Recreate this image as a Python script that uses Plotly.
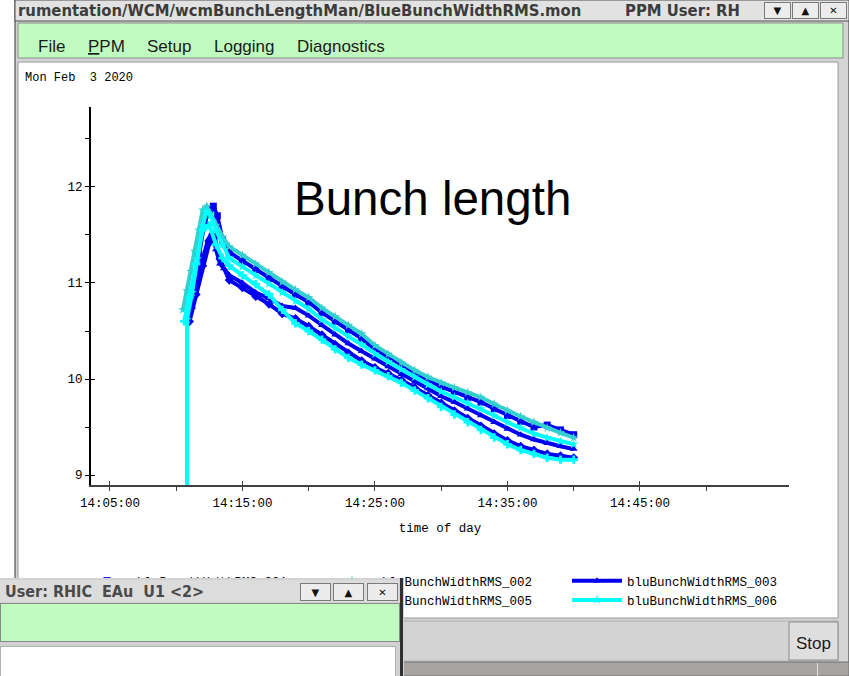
import plotly.graph_objects as go

W, H = 849, 676


def PX(x):
    return x / W


def PY(y):
    return 1 - y / H


DAY = "2020-02-03 "

# ---------------- data ----------------
series_names = ["bluBunchWidthRMS_001", "bluBunchWidthRMS_002", "bluBunchWidthRMS_003",
                "bluBunchWidthRMS_004", "bluBunchWidthRMS_005", "bluBunchWidthRMS_006"]

decay_times = ["14:14:00", "14:15:00", "14:16:00", "14:17:00", "14:18:00", "14:19:00",
               "14:20:00", "14:21:00", "14:22:00", "14:23:00", "14:24:00", "14:25:00",
               "14:26:00", "14:27:00", "14:28:00", "14:29:00", "14:30:00", "14:31:00",
               "14:32:00", "14:33:00", "14:34:00", "14:35:00", "14:36:00", "14:37:00",
               "14:38:00", "14:39:00", "14:40:00"]

rise_001_t = ["14:10:54", "14:11:18", "14:11:42", "14:12:06", "14:12:30", "14:12:48", "14:13:06", "14:13:30"]
rise_001_v = [10.62, 10.95, 11.30, 11.60, 11.76, 11.80, 11.70, 11.45]
decay_001_v = [11.32, 11.23, 11.14, 11.05, 10.96, 10.88, 10.80, 10.69, 10.60, 10.51, 10.42, 10.31,
               10.23, 10.14, 10.06, 9.99, 9.92, 9.87, 9.81, 9.76, 9.69, 9.62, 9.56, 9.50,
               9.52, 9.47, 9.42]

rise_002_t = ["14:10:30", "14:10:48", "14:11:06", "14:11:24", "14:11:42", "14:12:00", "14:12:18",
              "14:12:36", "14:13:00", "14:13:30"]
rise_002_v = [10.72, 10.92, 11.12, 11.33, 11.55, 11.76, 11.80, 11.72, 11.60, 11.48]
decay_002_v = [11.38, 11.29, 11.20, 11.11, 11.01, 10.93, 10.85, 10.74, 10.65, 10.56, 10.47, 10.35,
               10.26, 10.17, 10.09, 10.02, 9.96, 9.91, 9.86, 9.81, 9.74, 9.67, 9.61, 9.55,
               9.49, 9.44, 9.39]

rise_003_t = ["14:10:51", "14:11:12", "14:11:36", "14:12:00", "14:12:24", "14:12:42", "14:13:00",
              "14:13:18", "14:13:36"]
rise_003_v = [10.58, 10.75, 11.00, 11.25, 11.45, 11.52, 11.35, 11.20, 11.15]
decay_003_v = [11.08, 11.00, 10.90, 10.84, 10.76, 10.74, 10.66, 10.56, 10.46, 10.37, 10.29, 10.21,
               10.13, 10.05, 9.97, 9.90, 9.82, 9.76, 9.69, 9.62, 9.55, 9.48, 9.42, 9.37,
               9.33, 9.30, 9.27]

rise_004_t = ["14:11:00", "14:11:30", "14:12:00", "14:12:30", "14:12:54", "14:13:18"]
rise_004_v = [10.60, 10.88, 11.18, 11.42, 11.48, 11.25]
decay_004_v = [11.03, 10.95, 10.86, 10.78, 10.68, 10.63, 10.55, 10.46, 10.36, 10.27, 10.19, 10.12,
               10.06, 9.99, 9.91, 9.83, 9.75, 9.67, 9.59, 9.51, 9.43, 9.36, 9.30, 9.26,
               9.22, 9.20, 9.18]

rise_005_t = ["14:10:36", "14:11:00", "14:11:30", "14:12:00", "14:12:30", "14:13:00", "14:13:30"]
rise_005_v = [10.60, 10.85, 11.20, 11.55, 11.60, 11.40, 11.26]
decay_005_v = [11.18, 11.08, 10.99, 10.88, 10.72, 10.58, 10.50, 10.41, 10.31, 10.22, 10.15, 10.09,
               10.03, 9.96, 9.88, 9.80, 9.71, 9.63, 9.55, 9.47, 9.39, 9.32, 9.26, 9.22,
               9.18, 9.16, 9.16]

rise_006_t = ["14:10:48", "14:10:49", "14:11:12", "14:11:36", "14:12:00", "14:12:18", "14:12:36",
              "14:13:00", "14:13:30"]
rise_006_v = [0.0, 10.62, 10.90, 11.25, 11.60, 11.75, 11.70, 11.55, 11.40]
decay_006_v = [11.26, 11.17, 11.08, 10.99, 10.90, 10.81, 10.73, 10.62, 10.53, 10.44, 10.36, 10.26,
               10.18, 10.10, 10.02, 9.94, 9.87, 9.81, 9.75, 9.69, 9.62, 9.55, 9.49, 9.43,
               9.39, 9.35, 9.32]

x_major_ticks = ["14:05:00", "14:15:00", "14:25:00", "14:35:00", "14:45:00"]
x_minor_ticks = ["14:10:00", "14:20:00", "14:30:00", "14:40:00", "14:50:00"]
x_range = ["14:03:34", "14:56:15"]
y_range = [8.896, 12.833]
date_text = "Mon Feb&nbsp;&nbsp;3 2020"
menu_items = ["File", "<u>P</u>PM", "Setup", "Logging", "Diagnostics"]

# ---------------- style ----------------
BLUE = "#0000f0"
CYAN = "#00ffff"
TEAL = "#33d0d0"
series_style = [
    (rise_001_t, rise_001_v, decay_001_v, BLUE, "square"),
    (rise_002_t, rise_002_v, decay_002_v, TEAL, "star"),
    (rise_003_t, rise_003_v, decay_003_v, BLUE, "triangle-up"),
    (rise_004_t, rise_004_v, decay_004_v, BLUE, "diamond"),
    (rise_005_t, rise_005_v, decay_005_v, CYAN, "cross"),
    (rise_006_t, rise_006_v, decay_006_v, CYAN, "star"),
]

MONO = "Liberation Mono"
SANS = "Liberation Sans"
COND = "DejaVu Sans Condensed"

fig = go.Figure()
for name, (rt, rv, dv, col, sym) in zip(series_names, series_style):
    fig.add_trace(go.Scatter(
        x=[DAY + t for t in rt + decay_times], y=rv + dv, name=name,
        mode="lines+markers", line=dict(color=col, width=4),
        marker=dict(color=col, size=7, symbol=sym),
    ))
# helper overlay axes (for ticks crossing the axis lines)
fig.add_trace(go.Scatter(x=[], y=[], xaxis="x2", yaxis="y2", showlegend=False, hoverinfo="skip"))

xdom = [PX(91), PX(789)]
ydom = [PY(485), PY(107)]
xr = [DAY + t for t in x_range]
xaxis_common = dict(type="date", range=xr, domain=xdom, tickmode="array",
                    tickvals=[DAY + t for t in x_major_ticks],
                    showgrid=False, zeroline=False, tickcolor="#404040", ticklen=4, tickwidth=1,
                    minor=dict(tickmode="array", tickvals=[DAY + t for t in x_minor_ticks], ticklen=4,
                               tickcolor="#404040", tickwidth=1, showgrid=False))
yaxis_common = dict(range=y_range, domain=ydom, tick0=9, dtick=1, showgrid=False, zeroline=False,
                    tickcolor="black", ticklen=4, tickwidth=1,
                    minor=dict(dtick=0.5, tick0=9, ticklen=4, tickcolor="black", tickwidth=1,
                               showgrid=False))

fig.update_layout(
    width=W, height=H, margin=dict(l=0, r=0, t=0, b=0, autoexpand=False), autosize=False,
    paper_bgcolor="white", plot_bgcolor="rgba(0,0,0,0)",
    showlegend=True,
    xaxis=dict(**xaxis_common, ticks="outside", showline=True, linecolor="#404040", linewidth=2,
               tickformat="%H:%M:%S", ticklabelstandoff=1,
               tickfont=dict(family=MONO, size=12.5, color="black"),
               title=dict(text="time of day", font=dict(family=MONO, size=12.5, color="black"),
                          standoff=13)),
    yaxis=dict(**yaxis_common, ticks="outside", showline=True, linecolor="black", linewidth=2,
               tickfont=dict(family=MONO, size=12.5, color="black")),
    xaxis2=dict(**xaxis_common, overlaying="x", anchor="y", ticks="inside", showline=False,
                showticklabels=False),
    yaxis2=dict(**yaxis_common, overlaying="y", anchor="x", ticks="inside", showline=False,
                showticklabels=False),
    legend=dict(orientation="h", x=PX(77), y=PY(566), xanchor="left", yanchor="top",
                entrywidth=180, entrywidthmode="pixels", itemwidth=50,
                font=dict(family=MONO, size=12.5, color="black"), bgcolor="rgba(0,0,0,0)"),
)

# ---------------- window chrome (shapes, paper coords) ----------------
def rect(x0, y0, x1, y1, fill, line=None, lw=1):
    fig.add_shape(type="rect", xref="paper", yref="paper", x0=PX(x0), x1=PX(x1), y0=PY(y1), y1=PY(y0),
                  fillcolor=fill, line=dict(color=line or fill, width=lw if line else 0), layer="below")


rect(15, 0, 849, 676, "#d4d4d4", "#303030")       # main window frame
rect(15, 0, 849, 21, "#e2e2e2", "#505050")        # title bar
rect(18, 23, 843, 58, "#c0fcc0", "#8c8c8c")       # menu bar
rect(18, 62, 838, 618, "white", "#9a9a9a")        # plot panel
rect(18, 621, 838, 661, "#d3d3d3", "#b0b0b0")     # status panel
rect(789, 622, 838, 660, "#dedede", "#8a8a8a")    # Stop button
rect(15, 662, 849, 676, "#a8a4a2", "#707070")     # bottom bar
rect(817, 663, 818, 676, "#e0e0e0")


def note(text, x, y, size, family=SANS, color="#1a1a1a", xanchor="left", yanchor="middle"):
    fig.add_annotation(text=text, xref="paper", yref="paper", x=PX(x), y=PY(y), xanchor=xanchor,
                       yanchor=yanchor, showarrow=False, font=dict(family=family, size=size, color=color))


def box(x, y, w, h, bg, text=" ", border=None, size=12, family=SANS, color="#333", align="center"):
    fig.add_annotation(text=text, xref="paper", yref="paper", x=PX(x), y=PY(y), xanchor="left",
                       yanchor="top", showarrow=False, width=w, height=h, bgcolor=bg, borderpad=0,
                       borderwidth=1 if border else 0, bordercolor=border or bg, align=align,
                       valign="middle", font=dict(family=family, size=size, color=color))


note("<b>rumentation/WCM/wcmBunchLengthMan/BlueBunchWidthRMS.mon</b>", 16, 10.5, 16.5,
     family=COND, color="#3c3c3c")
note("<b>PPM User: RH</b>", 623, 10.5, 16.5, family=COND, color="#3c3c3c")
for bx, sym in [(764, "▼"), (792, "▲"), (820, "✕")]:
    box(bx, 2, 25, 15, "#ececec", sym, border="#7a7a7a", size=10, family="DejaVu Sans", color="#111")

for txt, mx in zip(menu_items, [36, 86, 145, 212, 295]):
    note(txt, mx, 46, 17, color="#1a1a1a")

note(date_text, 23, 78, 12, family=MONO, color="black")
note("Bunch length", 433, 198, 47.5, xanchor="center", color="black")
note("Stop", 813.5, 643, 17, xanchor="center", color="#1a1a1a")

# second (popup) window, drawn on top of the legend
box(0, 578, 404, 98, "#d2d2d2")
box(400, 578, 3, 98, "#303030")
box(0, 580, 399, 22, "#dcdcdc", "<b>&nbsp;User: RHIC&nbsp;&nbsp;EAu&nbsp;&nbsp;U1 &lt;2&gt;</b>", size=16,
    family=COND, color="#4a4a4a", align="left")
for bx, sym in [(300, "▼"), (333, "▲"), (367, "✕")]:
    box(bx, 583, 29, 16, "#ececec", sym, border="#7a7a7a", size=10, family="DejaVu Sans", color="#111")
box(0, 603, 398, 37, "#c0fcc0", border="#8a8a8a")
box(0, 646, 394, 30, "white", border="#b0b0b0")

fig.write_html("out.html", config={"displayModeBar": False},
               post_script="document.body.style.margin='0px';")
